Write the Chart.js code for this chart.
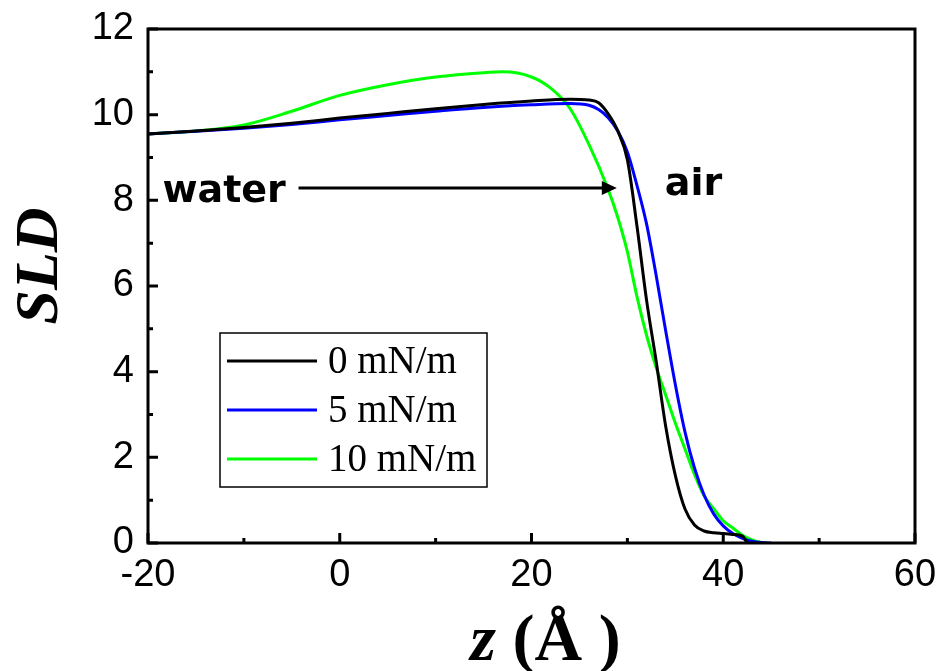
<!DOCTYPE html>
<html>
<head>
<meta charset="utf-8">
<script src="https://cdn.jsdelivr.net/npm/chart.js@4"></script>
<style>
  html, body { margin: 0; padding: 0; background: #fff; }
</style>
</head>
<body>
<canvas id="sldChart" width="940" height="671"></canvas>
<script>
// SLD profiles (z in Angstrom)
const z0 = [-20, -15, -10, -5, 0, 5, 10, 15, 20, 24, 26, 27, 28, 29, 30, 31, 32, 33, 34, 35, 36, 37, 38, 39, 40, 41, 42, 42.5];
const sld0 = [9.55, 9.62, 9.70, 9.80, 9.92, 10.03, 10.14, 10.24, 10.32, 10.36, 10.34, 10.28, 10.02, 9.62, 8.95, 7.4, 5.67, 4.25, 2.72, 1.58, 0.8, 0.42, 0.28, 0.24, 0.22, 0.2, 0.16, 0.0];

const z5 = [-20, -15, -10, -5, 0, 5, 10, 15, 20, 24, 26, 27, 28, 29, 30, 31, 32, 33, 34, 35, 36, 37, 38, 39, 40, 41, 42, 43, 44, 45];
const sld5 = [9.55, 9.61, 9.68, 9.77, 9.88, 9.98, 10.08, 10.17, 10.23, 10.26, 10.22, 10.12, 9.93, 9.62, 9.13, 8.35, 7.45, 6.25, 4.95, 3.7, 2.6, 1.75, 1.12, 0.68, 0.4, 0.22, 0.11, 0.04, 0.01, 0.0];

const z10 = [-20, -15, -10, -5, 0, 5, 10, 15, 17, 20, 22, 24, 26, 28, 29, 30, 31, 32, 33, 34, 35, 36, 37, 38, 39, 40, 41, 42, 43, 44, 44.5];
const sld10 = [9.55, 9.62, 9.76, 10.08, 10.45, 10.7, 10.88, 10.98, 11.0, 10.88, 10.62, 10.15, 9.3, 8.25, 7.6, 6.8, 5.75, 4.85, 4.1, 3.45, 2.8, 2.2, 1.6, 1.1, 0.8, 0.52, 0.35, 0.18, 0.07, 0.01, 0.0];

const seriesLabels = ["0 mN/m", "5 mN/m", "10 mN/m"];
const seriesColors = ["#000000", "#0000ff", "#00ff00"];

const xTicks = [-20, 0, 20, 40, 60];
const yTicks = [0, 2, 4, 6, 8, 10, 12];

// text annotations, in data units
const waterNote = { text: "water", x: -18.5, y: 7.96 };
const airNote = { text: "air", x: 33.9, y: 8.12 };
const arrowNote = { x1: -4.3, x2: 28.9, y: 8.29 };

function pts(xs, ys) {
  return xs.map((v, i) => ({ x: v, y: ys[i] }));
}

function noPad(s) {
  s.paddingTop = 0;
  s.paddingBottom = 0;
  s.paddingLeft = 0;
  s.paddingRight = 0;
}

const decorPlugin = {
  id: "decor",
  afterDraw(chart) {
    const { ctx, chartArea: a, scales: { x, y } } = chart;
    ctx.save();

    // frame
    ctx.strokeStyle = "#000";
    ctx.lineWidth = 3;
    ctx.strokeRect(a.left, a.top, a.right - a.left, a.bottom - a.top);

    // inward ticks, major + minor
    ctx.beginPath();
    for (let i = 0; i < xTicks.length; i++) {
      const px = x.getPixelForValue(xTicks[i]);
      ctx.moveTo(px, a.bottom);
      ctx.lineTo(px, a.bottom - 10);
      if (i < xTicks.length - 1) {
        const mx = x.getPixelForValue((xTicks[i] + xTicks[i + 1]) / 2);
        ctx.moveTo(mx, a.bottom);
        ctx.lineTo(mx, a.bottom - 5);
      }
    }
    for (let i = 0; i < yTicks.length; i++) {
      const py = y.getPixelForValue(yTicks[i]);
      ctx.moveTo(a.left, py);
      ctx.lineTo(a.left + 10, py);
      if (i < yTicks.length - 1) {
        const my = y.getPixelForValue((yTicks[i] + yTicks[i + 1]) / 2);
        ctx.moveTo(a.left, my);
        ctx.lineTo(a.left + 5, my);
      }
    }
    ctx.stroke();

    // legend box
    const lx = a.left + 72, ly = a.top + 304, lw = 267, lh = 154;
    ctx.lineWidth = 1.5;
    ctx.strokeRect(lx, ly, lw, lh);
    ctx.font = "39px 'Liberation Serif'";
    ctx.textBaseline = "middle";
    ctx.textAlign = "left";
    chart.data.datasets.forEach((ds, i) => {
      const ry = ly + 28 + i * 49;
      ctx.strokeStyle = ds.borderColor;
      ctx.lineWidth = 3;
      ctx.beginPath();
      ctx.moveTo(lx + 7, ry);
      ctx.lineTo(lx + 97, ry);
      ctx.stroke();
      ctx.fillStyle = "#000";
      ctx.fillText(ds.label, lx + 108, ry + 2);
    });

    // annotations
    ctx.fillStyle = "#000";
    ctx.font = "bold 38px 'DejaVu Sans'";
    ctx.textBaseline = "alphabetic";
    ctx.fillText(waterNote.text, x.getPixelForValue(waterNote.x), y.getPixelForValue(waterNote.y));
    ctx.fillText(airNote.text, x.getPixelForValue(airNote.x), y.getPixelForValue(airNote.y));

    const ax1 = x.getPixelForValue(arrowNote.x1);
    const ax2 = x.getPixelForValue(arrowNote.x2);
    const ay = y.getPixelForValue(arrowNote.y);
    ctx.strokeStyle = "#000";
    ctx.lineWidth = 3;
    ctx.beginPath();
    ctx.moveTo(ax1, ay);
    ctx.lineTo(ax2 - 10, ay);
    ctx.stroke();
    ctx.beginPath();
    ctx.moveTo(ax2, ay);
    ctx.lineTo(ax2 - 15, ay - 7);
    ctx.lineTo(ax2 - 15, ay + 7);
    ctx.closePath();
    ctx.fill();

    // axis titles
    ctx.save();
    ctx.translate(41, (a.top + a.bottom) / 2 - 20);
    ctx.rotate(-Math.PI / 2);
    ctx.font = "italic bold 62px 'Liberation Serif'";
    ctx.textAlign = "center";
    ctx.textBaseline = "middle";
    ctx.fillText("SLD", 0, 0);
    ctx.restore();

    const zPart = "z";
    const unitPart = " (\u00C5 )";
    ctx.textBaseline = "alphabetic";
    ctx.textAlign = "left";
    ctx.font = "italic bold 66px 'Liberation Serif'";
    const wz = ctx.measureText(zPart).width;
    ctx.font = "bold 66px 'Liberation Serif'";
    const wu = ctx.measureText(unitPart).width;
    const startX = (a.left + a.right) / 2 + 14 - (wz + wu) / 2;
    const baseY = a.bottom + 117;
    ctx.font = "italic bold 66px 'Liberation Serif'";
    ctx.fillText(zPart, startX, baseY);
    ctx.font = "bold 66px 'Liberation Serif'";
    ctx.fillText(unitPart, startX + wz, baseY);

    ctx.restore();
  }
};

const ctx = document.getElementById("sldChart").getContext("2d");
new Chart(ctx, {
  type: "line",
  data: {
    datasets: [
      { label: seriesLabels[0], data: pts(z0, sld0), borderColor: seriesColors[0] },
      { label: seriesLabels[1], data: pts(z5, sld5), borderColor: seriesColors[1] },
      { label: seriesLabels[2], data: pts(z10, sld10), borderColor: seriesColors[2] },
    ],
  },
  options: {
    responsive: false,
    animation: false,
    devicePixelRatio: 1,
    elements: {
      point: { radius: 0 },
      line: { borderWidth: 3, cubicInterpolationMode: "monotone", fill: false },
    },
    layout: { padding: { top: 29, right: 25, left: 0, bottom: 0 } },
    plugins: {
      legend: { display: false },
      tooltip: { enabled: false },
    },
    scales: {
      x: {
        type: "linear",
        min: -20,
        max: 60,
        afterBuildTicks: (s) => { s.ticks = xTicks.map((v) => ({ value: v })); },
        afterFit: (s) => { s.height = 128; noPad(s); },
        grid: { display: false, drawTicks: false },
        border: { display: false },
        ticks: {
          color: "#000",
          padding: 10,
          font: { family: "'Liberation Sans', Arial", size: 38 },
        },
      },
      y: {
        type: "linear",
        min: 0,
        max: 12,
        afterBuildTicks: (s) => { s.ticks = yTicks.map((v) => ({ value: v })); },
        afterFit: (s) => { s.width = 148; noPad(s); },
        grid: { display: false, drawTicks: false },
        border: { display: false },
        ticks: {
          color: "#000",
          padding: 14,
          font: { family: "'Liberation Sans', Arial", size: 38 },
        },
      },
    },
  },
  plugins: [decorPlugin],
});
</script>
</body>
</html>
